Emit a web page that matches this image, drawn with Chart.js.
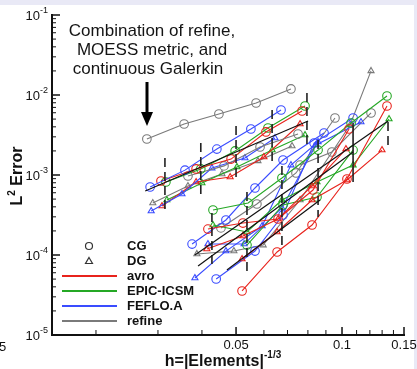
<!DOCTYPE html>
<html>
<head>
<meta charset="utf-8">
<title>L2 error vs h</title>
<script src="https://cdn.jsdelivr.net/npm/chart.js@4.4.0/dist/chart.umd.js"></script>
<style>
  html, body { margin: 0; padding: 0; background: #e9e9f6; overflow: hidden; }
  #sheet { position: absolute; left: 0; top: 5px; width: 414px; height: 364px; background: #fff; }
  #chart { position: absolute; left: 0; top: 0; }
</style>
</head>
<body>
<div id="sheet"></div>
<canvas id="chart" width="417" height="369"></canvas>
<script>
// Axis ranges and tick labels
const xRange = [0.015, 0.15];
const yRange = [1e-5, 1e-1];
const xMajorTicks = [0.05, 0.1, 0.15];
const xMajorLabels = ['0.05', '0.1', '0.15'];
const xMinorTicks = [0.02, 0.03, 0.04, 0.06, 0.07, 0.08, 0.09, 0.11, 0.12, 0.13, 0.14];
const yDecades = [-5, -4, -3, -2, -1];

// Codes and discretizations
const codes = ['avro', 'EPIC-ICSM', 'FEFLO.A', 'refine'];
const codeColors = ['#e8231c', '#25a825', '#3a4cff', '#7a7a7a'];
const discretizations = ['CG', 'DG'];

// First group (shallower convergence)
const refineMoessH = [0.0279, 0.0356, 0.0447, 0.0570, 0.0716];
const refineMoessErr = [2.82e-3, 4.34e-3, 5.79e-3, 7.94e-3, 1.19e-2];
const feflo1CgH = [0.0285, 0.0358, 0.0441, 0.0551, 0.0671];
const feflo1CgErr = [7.08e-4, 1.15e-3, 2.11e-3, 3.76e-3, 6.49e-3];
const avro1CgH = [0.0306, 0.0385, 0.0484, 0.0608, 0.0770];
const avro1CgErr = [8.41e-4, 1.19e-3, 1.58e-3, 3.45e-3, 6.31e-3];
const epic1CgH = [0.0316, 0.0397, 0.0497, 0.0616, 0.0785];
const epic1CgErr = [8.18e-4, 1.19e-3, 2.0e-3, 3.87e-3, 7.29e-3];
const refine1CgH = [0.0365, 0.0462, 0.0585, 0.0750];
const refine1CgErr = [9.72e-4, 1.30e-3, 2.24e-3, 3.25e-3];
const feflo1DgH = [0.0287, 0.0351, 0.0427, 0.0530, 0.0645];
const feflo1DgErr = [3.55e-4, 5.79e-4, 1.22e-3, 1.63e-3, 2.90e-3];
const avro1DgH = [0.0308, 0.0385, 0.0481, 0.0600, 0.0760];
const avro1DgErr = [4.10e-4, 8.18e-4, 9.44e-4, 1.68e-3, 4.34e-3];
const epic1DgH = [0.0318, 0.0400, 0.0503, 0.0633, 0.0785];
const epic1DgErr = [4.87e-4, 7.94e-4, 1.26e-3, 2.05e-3, 3.16e-3];
const refine1DgH = [0.0290, 0.0365, 0.0456, 0.0577, 0.0721];
const refine1DgErr = [4.47e-4, 7.29e-4, 1.03e-3, 1.50e-3, 2.30e-3];

// Second group (steeper convergence)
const avro2CgH = [0.0520, 0.0654, 0.0822, 0.1033, 0.1342];
const avro2CgErr = [3.55e-5, 1.09e-4, 2.37e-4, 8.91e-4, 7.29e-3];
const avro2CgBH = [0.0416, 0.0523, 0.0658, 0.0827, 0.1047];
const avro2CgBErr = [2.11e-4, 2.51e-4, 2.82e-4, 6.49e-4, 3.76e-3];
const avro2DgH = [0.0413, 0.0523, 0.0658, 0.0822, 0.1026];
const avro2DgErr = [1.19e-4, 1.73e-4, 2.82e-4, 7.29e-4, 2.11e-3];
const avro2DgBH = [0.0520, 0.0654, 0.0822, 0.1033, 0.1299];
const avro2DgBErr = [8.91e-5, 1.94e-4, 4.87e-4, 8.66e-4, 2.05e-3];
const epic2CgH = [0.0430, 0.0541, 0.0675, 0.0855, 0.1061, 0.1342];
const epic2CgErr = [3.65e-4, 4.47e-4, 9.17e-4, 2.05e-3, 4.47e-3, 9.72e-3];
const epic2CgBH = [0.0537, 0.0680, 0.0849, 0.1075];
const epic2CgBErr = [1.33e-4, 4.22e-4, 5.31e-4, 2.05e-3];
const epic2DgH = [0.0430, 0.0537, 0.0675, 0.0849, 0.1075, 0.1360];
const epic2DgErr = [2.37e-4, 1.94e-4, 4.87e-4, 8.18e-4, 1.33e-3, 5.01e-3];
const feflo2CgH = [0.0439, 0.0566, 0.0680, 0.0833, 0.1075];
const feflo2CgErr = [5.01e-5, 1.12e-4, 3.16e-4, 2.51e-3, 5.16e-3];
const feflo2CgBH = [0.0375, 0.0468, 0.0566, 0.0680, 0.0889];
const feflo2CgBErr = [1.37e-4, 2.74e-4, 6.88e-4, 1.54e-3, 3.35e-3];
const feflo2DgH = [0.0382, 0.0468, 0.0593, 0.0716, 0.0855];
const feflo2DgErr = [5.16e-5, 1.12e-4, 2.30e-4, 1.33e-3, 2.59e-3];
const feflo2DgBH = [0.0416, 0.0527, 0.0675, 0.0843, 0.1132];
const feflo2DgBErr = [1.37e-4, 1.37e-4, 3.87e-4, 2.37e-3, 4.60e-3];
const refine2CgH = [0.0453, 0.0573, 0.0740, 0.0955];
const refine2CgErr = [2.18e-4, 4.34e-4, 1.06e-3, 5.16e-3];
const refine2CgBH = [0.0760, 0.0936, 0.1209];
const refine2CgBErr = [1.33e-3, 1.94e-3, 5.96e-3];
const refine2DgH = [0.0387, 0.0493, 0.0597, 0.0760, 0.1054, 0.1209];
const refine2DgErr = [1.03e-4, 1.12e-4, 1.33e-4, 4.87e-4, 4.22e-3, 2.0e-2];

// Black slope guides (two end points each)
const slopeH = [[0.0276, 0.0801], [0.0382, 0.1351], [0.0390, 0.1075], [0.0471, 0.0866]];
const slopeErr = [[6.31e-4, 4.73e-3], [1.0e-4, 4.73e-3], [7.29e-5, 1.94e-3], [6.49e-5, 4.87e-4]];

// Vertical range markers
const rangeH = [0.0314, 0.0397, 0.0500, 0.0633, 0.0795, 0.0427, 0.0537, 0.0675, 0.0855, 0.1075, 0.1351];
const rangeTop = [1.63e-3, 2.51e-3, 4.10e-3, 6.49e-3, 1.06e-2, 3.35e-4, 6.12e-4, 1.30e-3, 2.74e-3, 4.47e-3, 4.60e-3];
const rangeBottom = [3.35e-4, 5.16e-4, 8.18e-4, 1.33e-3, 2.18e-3, 6.88e-5, 5.62e-5, 1.33e-4, 2.99e-4, 8.18e-4, 2.05e-3];
const rangeSolid = [false, false, false, false, false, false, false, false, false, true, false];

// [code index, discretization index, h, error]
const runs = [
  [3, 0, refineMoessH, refineMoessErr],
  [2, 0, feflo1CgH, feflo1CgErr],
  [0, 0, avro1CgH, avro1CgErr],
  [1, 0, epic1CgH, epic1CgErr],
  [3, 0, refine1CgH, refine1CgErr],
  [2, 1, feflo1DgH, feflo1DgErr],
  [0, 1, avro1DgH, avro1DgErr],
  [1, 1, epic1DgH, epic1DgErr],
  [3, 1, refine1DgH, refine1DgErr],
  [0, 0, avro2CgH, avro2CgErr],
  [0, 0, avro2CgBH, avro2CgBErr],
  [0, 1, avro2DgH, avro2DgErr],
  [0, 1, avro2DgBH, avro2DgBErr],
  [1, 0, epic2CgH, epic2CgErr],
  [1, 0, epic2CgBH, epic2CgBErr],
  [1, 1, epic2DgH, epic2DgErr],
  [2, 0, feflo2CgH, feflo2CgErr],
  [2, 0, feflo2CgBH, feflo2CgBErr],
  [2, 1, feflo2DgH, feflo2DgErr],
  [2, 1, feflo2DgBH, feflo2DgBErr],
  [3, 0, refine2CgH, refine2CgErr],
  [3, 0, refine2CgBH, refine2CgBErr],
  [3, 1, refine2DgH, refine2DgErr]
];

const FONT = '"Liberation Sans", Arial, Helvetica, sans-serif';
const toPoints = (hs, es) => hs.map((h, i) => ({ x: h, y: es[i] }));

const datasets = [];

slopeH.forEach((hs, i) => {
  datasets.push({
    data: toPoints(hs, slopeErr[i]),
    showLine: true,
    borderColor: '#111',
    borderWidth: 1.2,
    pointRadius: 0
  });
});

rangeH.forEach((h, i) => {
  datasets.push({
    data: [{ x: h, y: rangeTop[i] }, { x: h, y: rangeBottom[i] }],
    showLine: true,
    borderColor: '#222',
    borderWidth: 1.6,
    borderDash: rangeSolid[i] ? [] : [9, 5],
    pointRadius: 0
  });
});

runs.forEach(([c, d, hs, es]) => {
  const color = codeColors[c];
  datasets.push({
    data: toPoints(hs, es),
    showLine: true,
    borderColor: color,
    borderWidth: 1.1,
    pointStyle: d === 0 ? 'circle' : 'triangle',
    pointRadius: d === 0 ? 4.3 : 3.5,
    pointBorderWidth: 1.1,
    pointBorderColor: color,
    pointBackgroundColor: 'rgba(0,0,0,0)'
  });
});

// superscript helper: base text followed by raised exponent
function textWithSup(ctx, base, sup, x, y, size, supSize, weight, align) {
  ctx.font = `${weight} ${size}px ${FONT}`;
  const wb = ctx.measureText(base).width;
  ctx.font = `${weight} ${supSize}px ${FONT}`;
  const ws = ctx.measureText(sup).width;
  let x0 = x;
  if (align === 'right') x0 = x - wb - ws;
  if (align === 'center') x0 = x - (wb + ws) / 2;
  ctx.textAlign = 'left';
  ctx.textBaseline = 'middle';
  ctx.font = `${weight} ${size}px ${FONT}`;
  ctx.fillText(base, x0, y);
  ctx.font = `${weight} ${supSize}px ${FONT}`;
  ctx.fillText(sup, x0 + wb, y - size * 0.4);
}

const decorations = {
  id: 'decorations',
  afterDraw(chart) {
    const { ctx, chartArea: area, scales: { x, y } } = chart;
    ctx.save();
    ctx.fillStyle = '#111';
    ctx.strokeStyle = '#111';

    // axes
    ctx.lineWidth = 2;
    ctx.beginPath();
    ctx.moveTo(area.left, area.top - 1);
    ctx.lineTo(area.left, area.bottom);
    ctx.lineTo(area.right + 1, area.bottom);
    ctx.stroke();

    // y ticks
    ctx.lineWidth = 1.5;
    yDecades.forEach(p => {
      const py = y.getPixelForValue(Math.pow(10, p));
      ctx.beginPath();
      ctx.moveTo(area.left, py);
      ctx.lineTo(area.left + 8, py);
      ctx.stroke();
      textWithSup(ctx, '10', String(p), 48, py + 1, 13, 9, 'normal', 'right');
      if (p < -1) {
        ctx.lineWidth = 1;
        for (let m = 2; m <= 9; m++) {
          const my = y.getPixelForValue(m * Math.pow(10, p));
          ctx.beginPath();
          ctx.moveTo(area.left, my);
          ctx.lineTo(area.left + 4, my);
          ctx.stroke();
        }
        ctx.lineWidth = 1.5;
      }
    });

    // x ticks
    xMajorTicks.forEach((v, i) => {
      const px = x.getPixelForValue(v);
      ctx.lineWidth = 1.5;
      ctx.beginPath();
      ctx.moveTo(px, area.bottom);
      ctx.lineTo(px, area.bottom - 8);
      ctx.stroke();
      ctx.font = `13px ${FONT}`;
      ctx.textAlign = 'center';
      ctx.textBaseline = 'middle';
      ctx.fillText(xMajorLabels[i], px, 345);
    });
    ctx.lineWidth = 1;
    xMinorTicks.forEach(v => {
      const px = x.getPixelForValue(v);
      ctx.beginPath();
      ctx.moveTo(px, area.bottom);
      ctx.lineTo(px, area.bottom - 5);
      ctx.stroke();
    });
    ctx.font = `13px ${FONT}`;
    ctx.textAlign = 'left';
    ctx.fillText('5', -1, 347);

    // axis titles
    textWithSup(ctx, 'h=|Elements|', '-1/3', 223, 362, 16, 10, 'bold', 'center');
    ctx.save();
    ctx.translate(18, 176);
    ctx.rotate(-Math.PI / 2);
    ctx.font = `bold 16px ${FONT}`;
    const wL = ctx.measureText('L').width;
    const wRest = ctx.measureText(' Error').width;
    ctx.font = `bold 10px ${FONT}`;
    const w2 = ctx.measureText('2').width;
    const tx = -(wL + w2 + wRest) / 2;
    ctx.textBaseline = 'middle';
    ctx.textAlign = 'left';
    ctx.font = `bold 16px ${FONT}`;
    ctx.fillText('L', tx, 0);
    ctx.font = `bold 10px ${FONT}`;
    ctx.fillText('2', tx + wL, -6);
    ctx.font = `bold 16px ${FONT}`;
    ctx.fillText(' Error', tx + wL + w2, 0);
    ctx.restore();

    // legend
    ctx.strokeStyle = '#333';
    ctx.lineWidth = 1.2;
    ctx.beginPath();
    ctx.arc(89, 246, 3.5, 0, Math.PI * 2);
    ctx.stroke();
    ctx.beginPath();
    ctx.moveTo(89, 257.5);
    ctx.lineTo(92.5, 263.5);
    ctx.lineTo(85.5, 263.5);
    ctx.closePath();
    ctx.stroke();
    ctx.font = `bold 13px ${FONT}`;
    ctx.textAlign = 'left';
    ctx.textBaseline = 'middle';
    ctx.fillStyle = '#111';
    discretizations.forEach((d, i) => ctx.fillText(d, 127, 246 + i * 15));
    codes.forEach((name, i) => {
      const ly = 276 + i * 15;
      ctx.strokeStyle = codeColors[i];
      ctx.lineWidth = 2;
      ctx.beginPath();
      ctx.moveTo(62, ly);
      ctx.lineTo(117, ly);
      ctx.stroke();
      ctx.fillText(name, 127, ly);
    });

    // annotation with arrow
    ctx.font = `17px ${FONT}`;
    ctx.textAlign = 'center';
    ctx.fillStyle = '#141414';
    ctx.fillText('Combination of refine,', 152, 31);
    ctx.fillText('MOESS metric, and', 152, 50);
    ctx.fillText('continuous Galerkin', 148, 69);
    ctx.strokeStyle = '#000';
    ctx.lineWidth = 3;
    ctx.beginPath();
    ctx.moveTo(147, 82);
    ctx.lineTo(147, 113);
    ctx.stroke();
    ctx.fillStyle = '#000';
    ctx.beginPath();
    ctx.moveTo(141, 112);
    ctx.lineTo(153, 112);
    ctx.lineTo(147, 126);
    ctx.closePath();
    ctx.fill();

    ctx.restore();
  }
};

new Chart(document.getElementById('chart'), {
  type: 'scatter',
  data: { datasets },
  options: {
    responsive: false,
    animation: false,
    devicePixelRatio: 1,
    layout: { padding: { left: 52, right: 13, top: 15, bottom: 34 } },
    plugins: { legend: { display: false }, tooltip: { enabled: false } },
    scales: {
      x: { type: 'logarithmic', min: xRange[0], max: xRange[1], display: false },
      y: { type: 'logarithmic', min: yRange[0], max: yRange[1], display: false }
    }
  },
  plugins: [decorations]
});
</script>
</body>
</html>
